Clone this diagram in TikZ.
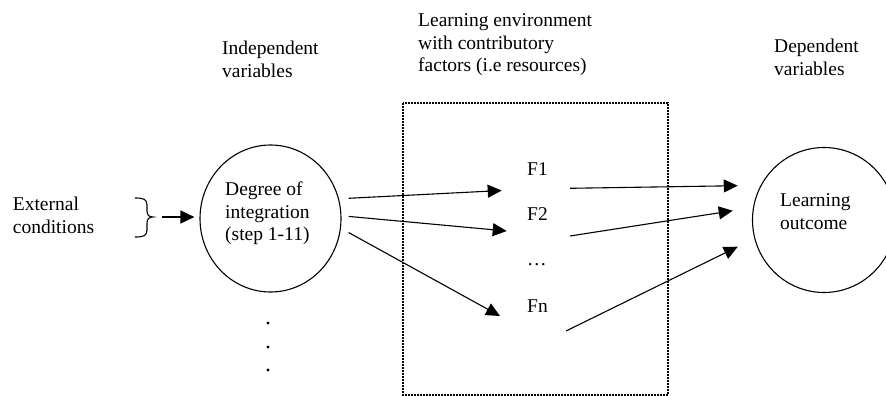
\documentclass[tikz,border=0pt]{standalone}
\usepackage{fontspec}
\setmainfont{Liberation Serif}
\usetikzlibrary{arrows.meta,shapes.geometric}

\begin{document}
\begin{tikzpicture}[x=1pt,y=-1pt,
  lbl/.style={anchor=base west, inner sep=0pt, align=left,
              font=\fontsize{19.5}{22.5}\selectfont},
  ring/.style={ellipse, draw, line width=1.1pt, inner sep=0pt},
  conn/.style={line width=1.1pt, -{Triangle[length=14pt,width=13pt]}},
  envbox/.style={line width=1.3pt, dash pattern=on 2pt off 1pt},
  dot/.style={fill, circle, inner sep=0pt, minimum size=3.4pt}]

\path[use as bounding box] (0,0) rectangle (886,396);
\clip (0,0) rectangle (886,396);

% column headings (positioned by the baseline of their last line)
\node[lbl] (indep) at (222,77.5) {Independent\\variables};
\node[lbl] (env)   at (418,71.5) {Learning environment\\with contributory\\factors (i.e resources)};
\node[lbl] (dep)   at (774,75)   {Dependent\\variables};

% learning environment frame
\draw[envbox] (403,103) rectangle (668,395);

% external conditions and brace
\node[lbl] (ext) at (12.7,233) {External\\conditions};
\coordinate (brtip) at (153,217);
\draw[line width=1.1pt] (135,198) .. controls (143,198) and (147,199) .. (147,205)
  -- (147,211) .. controls (147,215) and (149,217) .. (brtip)
  .. controls (149,217) and (147,219) .. (147,223)
  -- (147,230) .. controls (147,236) and (143,237) .. (135,237);

% independent variable
\node[ring, minimum width=141pt, minimum height=147pt] (deg) at (270.5,218.5) {};
\node[lbl] (degtxt) at (225,240.5) {Degree of\\integration\\(step 1-11)};
\draw[conn] ([xshift=9pt]brtip) -- ([xshift=-5pt]deg.west |- brtip);

% further independent variables
\node[dot] (d1) at (268,323) {};
\node[dot] (d2) at (268,347) {};
\node[dot] (d3) at (268,370) {};

% contributory factors
\node[lbl] (F1) at (527,175) {F1};
\node[lbl] (F2) at (527,220) {F2};
\node[lbl] (Fd) at (527,265) {…};
\node[lbl] (Fn) at (527,312) {Fn};

% dependent variable
\node[ring, minimum width=143pt, minimum height=145pt] (out) at (824,220) {};
\node[lbl] (outtxt) at (780,229) {Learning\\outcome};

% integration -> factors
\draw[conn] ([shift={(7,-20.2)}]deg.east) -- ([shift={(-25.3,15.5)}]F1.base west);
\draw[conn] ([shift={(7,-2.1)}]deg.east)  -- ([shift={(-20.3,11)}]F2.base west);
\draw[conn] ([shift={(7,14)}]deg.east)    -- ([shift={(-27,4)}]Fn.base west);

% factors -> outcome
\draw[conn] ([shift={(43,13.3)}]F1.base west) -- ([shift={(-14.2,-34.3)}]out.west);
\draw[conn] ([shift={(43,16)}]F2.base west)   -- ([shift={(-19.2,-9.3)}]out.west);
\draw[conn] ([shift={(39,19)}]Fn.base west)   -- ([shift={(-14.2,26.7)}]out.west);

\end{tikzpicture}
\end{document}
